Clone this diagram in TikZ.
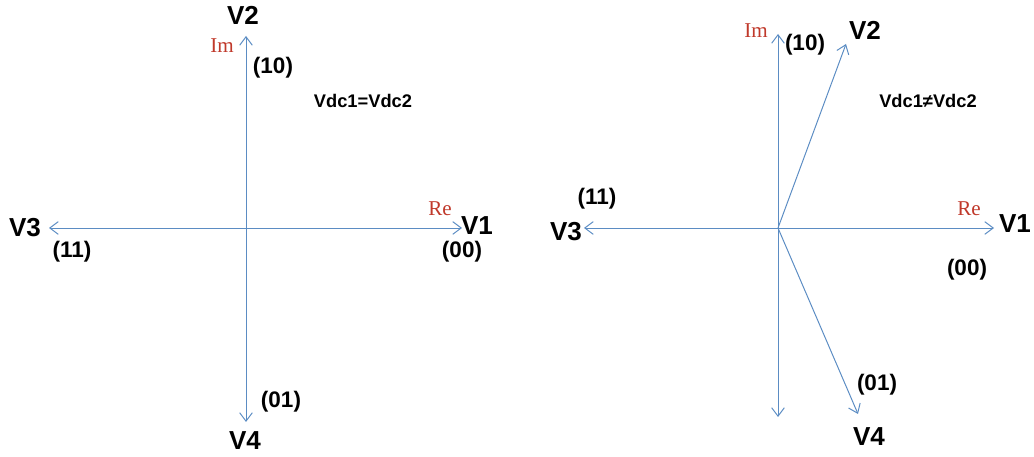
\documentclass[tikz,border=0pt]{standalone}
\usepackage{fontspec}
\setmainfont{Liberation Sans}
\newfontfamily\axisfont{Liberation Serif}
\usetikzlibrary{arrows.meta}
\definecolor{PhBlue}{HTML}{5B8CC3}
\definecolor{PhRed}{HTML}{C0392B}

\begin{document}
\begin{tikzpicture}[x=0.025cm,y=-0.025cm,
  phasor/.style={PhBlue,line width=0.7pt,-{Straight Barb[length=6pt,width=9pt]}},
  vlab/.style={font=\bfseries\fontsize{18.5}{18.5}\selectfont},
  code/.style={font=\bfseries\fontsize{16}{16}\selectfont},
  axlab/.style={PhRed,font=\axisfont\fontsize{15}{15}\selectfont},
  note/.style={font=\bfseries\fontsize{13}{13}\selectfont}]
\path[use as bounding box] (0,0) rectangle (1034,457);
% equal dc links
\coordinate (oA) at (246,228);
\coordinate (aV1) at (462,228);
\coordinate (aV2) at (246,36);
\coordinate (aV3) at (49,228);
\coordinate (aV4) at (246,422);
\draw[phasor] (oA) -- (aV1);
\draw[phasor] (oA) -- (aV2);
\draw[phasor] (oA) -- (aV3);
\draw[phasor] (oA) -- (aV4);
\node[vlab] (lV2) at (243,15) {V2};
\node[axlab] (lImA) at (222,46) {Im};
\node[code] (c10A) at (273,68) {(10)};
\node[note] (eqA) at (363,101) {Vdc1=Vdc2};
\node[vlab] (lV3) at (25,228) {V3};
\node[code] (c11A) at (72,252) {(11)};
\node[axlab] (lReA) at (440,209) {Re};
\node[vlab] (lV1) at (477,226) {V1};
\node[code] (c00A) at (462,252) {(00)};
\node[code] (c01A) at (281,402) {(01)};
\node[vlab] (lV4) at (245,441) {V4};
% unequal dc links
\coordinate (oB) at (778,228);
\coordinate (bRe) at (994,228);
\coordinate (bIm) at (778,34);
\coordinate (bV3) at (584,228);
\coordinate (bDn) at (778,417);
\coordinate (bV2) at (846,44);
\coordinate (bV4) at (858,414);
\draw[phasor] (oB) -- (bRe);
\draw[phasor] (oB) -- (bIm);
\draw[phasor] (oB) -- (bV3);
\draw[phasor] (oB) -- (bDn);
\draw[phasor] (oB) -- (bV2);
\draw[phasor] (oB) -- (bV4);
\node[axlab] (lImB) at (756,31) {Im};
\node[code] (c10B) at (805,45) {(10)};
\node[vlab] (rV2) at (865,30) {V2};
\node[note] (neqB) at (928,101) {Vdc1≠Vdc2};
\node[code] (c11B) at (597,199) {(11)};
\node[vlab] (rV3) at (566,232) {V3};
\node[axlab] (lReB) at (969,209) {Re};
\node[vlab] (rV1) at (1015,224) {V1};
\node[code] (c00B) at (967,270) {(00)};
\node[code] (c01B) at (877,385) {(01)};
\node[vlab] (rV4) at (869,437) {V4};
\end{tikzpicture}
\end{document}
